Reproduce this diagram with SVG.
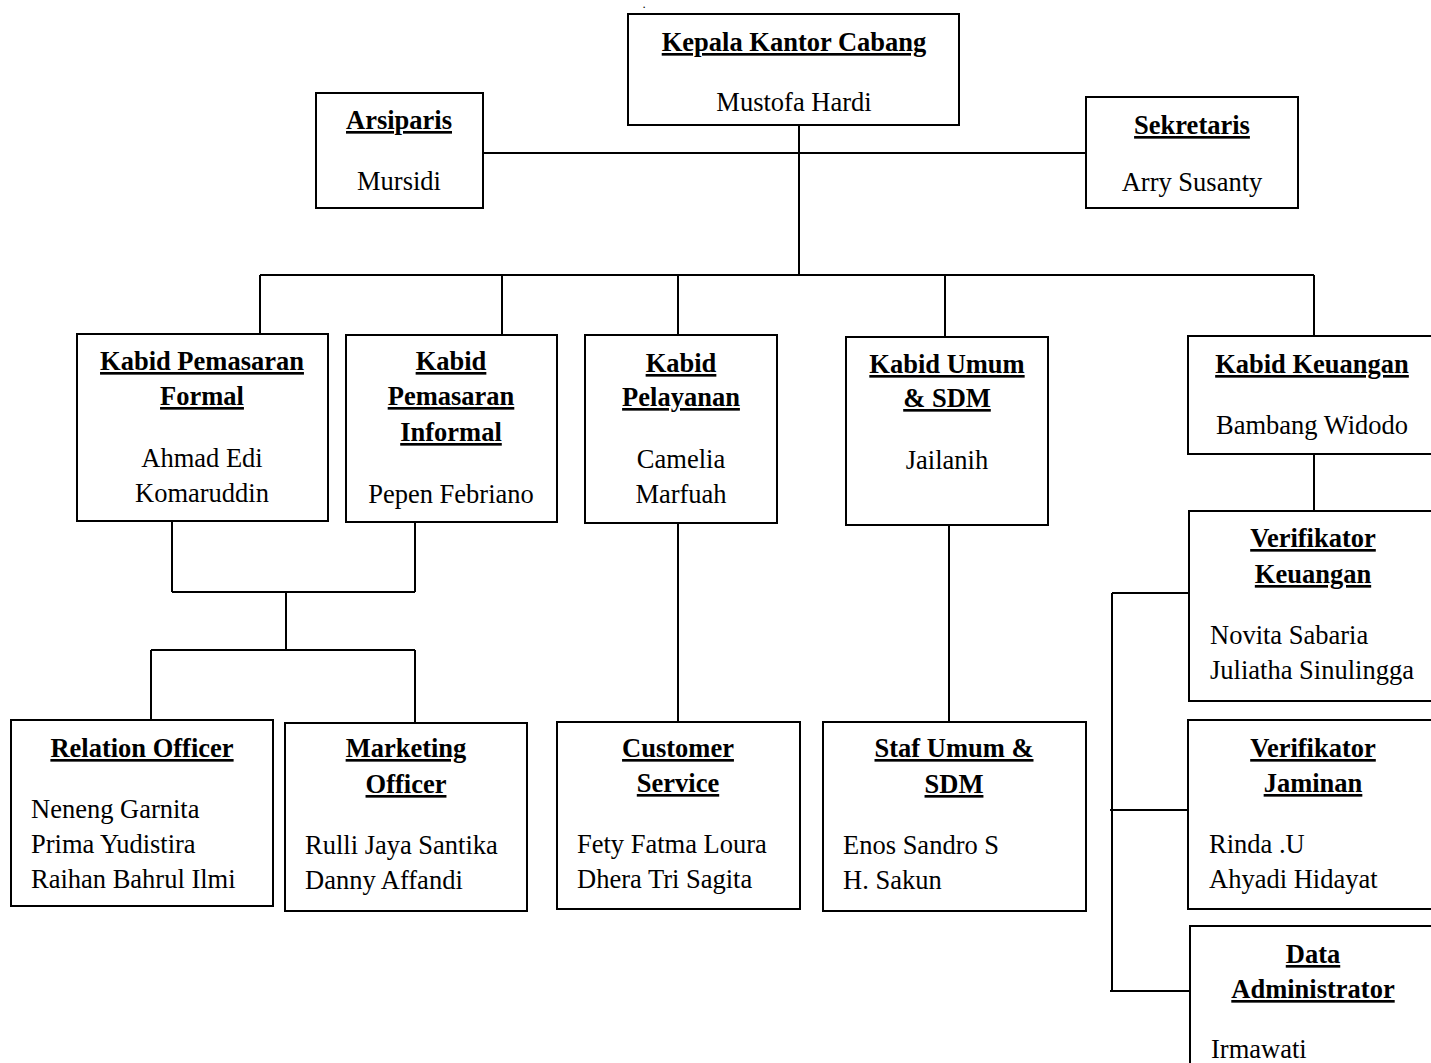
<svg xmlns="http://www.w3.org/2000/svg" width="1431" height="1063" viewBox="0 0 1431 1063">
<style>
.box{fill:#fff;stroke:#000;stroke-width:2}
.ln{fill:none;stroke:#000;stroke-width:2}
text{font-family:"Liberation Serif","Times New Roman",serif;font-size:26.5px;fill:#000}
.t{font-weight:bold;text-decoration:underline;text-anchor:middle}
.c{text-anchor:middle}
</style>
<rect width="1431" height="1063" fill="#fff"/>
<text x="643" y="8" style="font-size:9px;font-weight:bold">.</text>
<g id="connectors">
<path class="ln" d="M483,153 H1086 M799,125 V275 M260,275 H1314 M260,275 V334 M502,275 V335 M678,275 V335 M945,275 V337 M1314,275 V336"/>
<path class="ln" d="M172,521 V592 M415,522 V592 M172,592 H415 M286,592 V650 M151,650 H415 M151,650 V720 M415,650 V723"/>
<path class="ln" d="M678,523 V722 M949,525 V722"/>
<path class="ln" d="M1314,454 V511 M1112,593 V991 M1112,593 H1189 M1110,810 H1188 M1110,991 H1190"/>
</g>
<g id="kepala"><rect class="box" x="628" y="14" width="331" height="111"/>
<text class="t" x="794" y="51">Kepala Kantor Cabang</text><text class="c" x="794" y="111">Mustofa Hardi</text></g>
<g id="arsiparis"><rect class="box" x="316" y="93" width="167" height="115"/>
<text class="t" x="399" y="129">Arsiparis</text><text class="c" x="399" y="190">Mursidi</text></g>
<g id="sekretaris"><rect class="box" x="1086" y="97" width="212" height="111"/>
<text class="t" x="1192" y="134">Sekretaris</text><text class="c" x="1192" y="191">Arry Susanty</text></g>
<g id="kabid-formal"><rect class="box" x="77" y="334" width="251" height="187"/>
<text class="t" x="202" y="370">Kabid Pemasaran</text><text class="t" x="202" y="405">Formal</text>
<text class="c" x="202" y="467">Ahmad Edi</text><text class="c" x="202" y="502">Komaruddin</text></g>
<g id="kabid-informal"><rect class="box" x="346" y="335" width="211" height="187"/>
<text class="t" x="451" y="370">Kabid</text><text class="t" x="451" y="405">Pemasaran</text><text class="t" x="451" y="441">Informal</text>
<text class="c" x="451" y="503">Pepen Febriano</text></g>
<g id="kabid-pelayanan"><rect class="box" x="585" y="335" width="192" height="188"/>
<text class="t" x="681" y="372">Kabid</text><text class="t" x="681" y="406">Pelayanan</text>
<text class="c" x="681" y="468">Camelia</text><text class="c" x="681" y="503">Marfuah</text></g>
<g id="kabid-umum"><rect class="box" x="846" y="337" width="202" height="188"/>
<text class="t" x="947" y="373">Kabid Umum</text><text class="t" x="947" y="407">&amp; SDM</text>
<text class="c" x="947" y="469">Jailanih</text></g>
<g id="kabid-keuangan"><rect class="box" x="1188" y="336" width="250" height="118"/>
<text class="t" x="1312" y="373">Kabid Keuangan</text><text class="c" x="1312" y="434">Bambang Widodo</text></g>
<g id="verifikator-keuangan"><rect class="box" x="1189" y="511" width="250" height="190"/>
<text class="t" x="1313" y="547">Verifikator</text><text class="t" x="1313" y="583">Keuangan</text>
<text x="1210" y="644">Novita Sabaria</text><text x="1210" y="679">Juliatha Sinulingga</text></g>
<g id="relation-officer"><rect class="box" x="11" y="720" width="262" height="186"/>
<text class="t" x="142" y="757">Relation Officer</text>
<text x="31" y="818">Neneng Garnita</text><text x="31" y="853">Prima Yudistira</text><text x="31" y="888">Raihan Bahrul Ilmi</text></g>
<g id="marketing-officer"><rect class="box" x="285" y="723" width="242" height="188"/>
<text class="t" x="406" y="757">Marketing</text><text class="t" x="406" y="793">Officer</text>
<text x="305" y="854">Rulli Jaya Santika</text><text x="305" y="889">Danny Affandi</text></g>
<g id="customer-service"><rect class="box" x="557" y="722" width="243" height="187"/>
<text class="t" x="678" y="757">Customer</text><text class="t" x="678" y="792">Service</text>
<text x="577" y="853">Fety Fatma Loura</text><text x="577" y="888">Dhera Tri Sagita</text></g>
<g id="staf-umum"><rect class="box" x="823" y="722" width="263" height="189"/>
<text class="t" x="954" y="757">Staf Umum &amp;</text><text class="t" x="954" y="793">SDM</text>
<text x="843" y="854">Enos Sandro S</text><text x="843" y="889">H. Sakun</text></g>
<g id="verifikator-jaminan"><rect class="box" x="1188" y="720" width="250" height="189"/>
<text class="t" x="1313" y="757">Verifikator</text><text class="t" x="1313" y="792">Jaminan</text>
<text x="1209" y="853">Rinda .U</text><text x="1209" y="888">Ahyadi Hidayat</text></g>
<g id="data-administrator"><rect class="box" x="1190" y="926" width="250" height="150"/>
<text class="t" x="1313" y="963">Data</text><text class="t" x="1313" y="998">Administrator</text>
<text x="1211" y="1058">Irmawati</text></g>
</svg>
